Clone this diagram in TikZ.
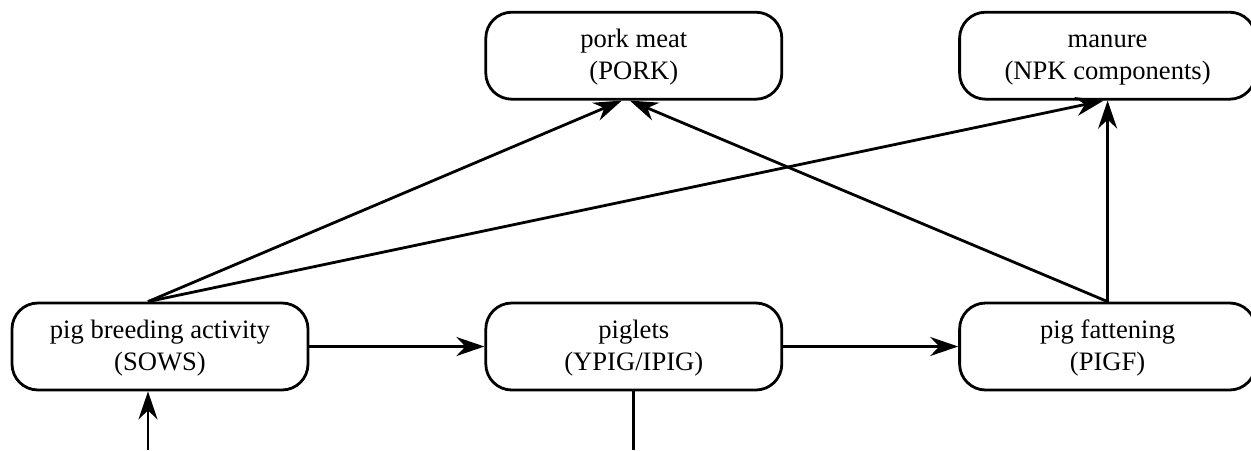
\documentclass[tikz,border=0pt]{standalone}
\usepackage{fontspec}
\setmainfont{Liberation Serif}
\newfontfamily\labelfont{Liberation Serif}
\usetikzlibrary{positioning, arrows.meta}
\tikzstyle{activity}=[rectangle, rounded corners=13pt, draw=black, line width=1.4pt, minimum width=148pt, minimum height=43.5pt, inner sep=0pt, align=center, text height=27pt, text depth=3pt, font=\labelfont\fontsize{13.3}{16}\selectfont]
\tikzstyle{flow}=[line width=1.4pt, -{Stealth[length=14pt, width=9.5pt, inset=4.5pt]}]
\tikzstyle{link}=[line width=1.4pt]

\begin{document}
\begin{tikzpicture}
            \useasboundingbox (0,0) rectangle (625.5pt,-225pt);
            %activities on the bottom row, products on the top row
            \node[activity](sows) at (80pt,-173.25pt){pig breeding activity\\(SOWS)};
            \node[activity, right = 87.5pt of sows](piglets){piglets\\(YPIG/IPIG)};
            \node[activity, right = 87.5pt of piglets](pigf){pig fattening\\(PIGF)};
            \node[activity, above = 100.5pt of piglets](pork){pork meat\\(PORK)};
            \node[activity, above = 100.5pt of pigf](manure){manure\\(NPK components)};
            \coordinate (feed) at (74pt,-225pt);
            \coordinate (pigout) at (piglets.south |- feed);
            \draw[flow] (feed) -- ([xshift=-6pt]sows.south);
            \draw[link] (piglets.south) -- (pigout);
            \draw[flow] (sows) -- (piglets);
            \draw[flow] (piglets) -- (pigf);
            \draw[flow] ([xshift=-6pt]sows.north) -- ([xshift=-6pt]pork.south);
            \draw[flow] ([xshift=-6pt]sows.north) -- ([xshift=-2pt]manure.south);
            \draw[flow] (pigf.north) -- ([xshift=-2pt]pork.south);
            \draw[flow] (pigf.north) -- (manure.south);
        \end{tikzpicture}
\end{document}
